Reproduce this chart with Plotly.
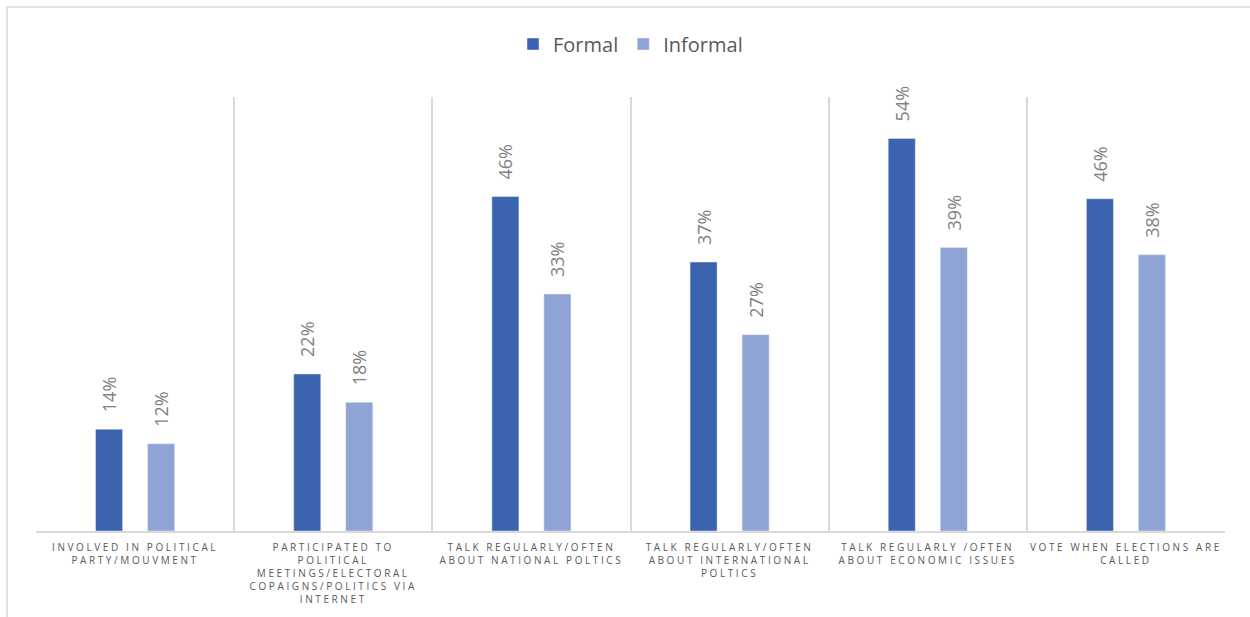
import plotly.graph_objects as go

categories = [
    "Involved in political party/mouvment",
    "Participated to political meetings/electoral copaigns/politics via internet",
    "Talk regularly/often about national poltics",
    "Talk regularly/often about international poltics",
    "Talk regularly /often about economic issues",
    "Vote when elections are called",
]
tick_labels = [
    "INVOLVED IN POLITICAL<br>PARTY/MOUVMENT",
    "PARTICIPATED TO<br>POLITICAL<br>MEETINGS/ELECTORAL<br>COPAIGNS/POLITICS VIA<br>INTERNET",
    "TALK REGULARLY/OFTEN<br>ABOUT NATIONAL POLTICS",
    "TALK REGULARLY/OFTEN<br>ABOUT INTERNATIONAL<br>POLTICS",
    "TALK REGULARLY /OFTEN<br>ABOUT ECONOMIC ISSUES",
    "VOTE WHEN ELECTIONS ARE<br>CALLED",
]
formal = [0.14, 0.216, 0.46, 0.37, 0.54, 0.457]
informal = [0.12, 0.177, 0.326, 0.27, 0.39, 0.38]

FONT = "Open Sans"
GRAY = "#595959"
PAD = "\u00a0\u00a0\u00a0"

fig = go.Figure()
for name, vals, col in [("Formal", formal, "#3C63AD"), ("Informal", informal, "#8FA4D5")]:
    fig.add_bar(name=name, x=categories, y=vals, marker_color=col,
                texttemplate=PAD + "%{y:.0%}", textposition="outside", textangle=-90,
                constraintext="none",
                textfont=dict(family=FONT, size=18, color="#7F7F7F"), cliponaxis=False)

fig.update_layout(
    width=1250, height=617,
    margin=dict(l=36, r=25, t=97, b=86),
    paper_bgcolor="white", plot_bgcolor="white",
    barmode="group", bargap=0.475, bargroupgap=0.48,
    font=dict(family=FONT, color=GRAY),
    legend=dict(orientation="h", x=0.5, xanchor="center", y=1 + 53/434, yanchor="middle",
                bgcolor="rgba(0,0,0,0)",
                font=dict(family=FONT, size=20, color=GRAY)),
    showlegend=True,
)
span = '<span style="letter-spacing:2.6px">'
fig.update_xaxes(
    tickmode="array", tickvals=categories,
    ticktext=[span + t.replace("<br>", "</span><br>" + span) + "</span>" for t in tick_labels],
    tickson="boundaries", ticks="", showgrid=True, gridcolor="#D9D9D9", gridwidth=1.5,
    showline=True, linecolor="#D9D9D9", linewidth=1.5,
    tickfont=dict(family=FONT, size=10, color=GRAY), tickangle=0,
    ticklabelstandoff=6,
    range=[-0.5, 5.5],
)
fig.update_yaxes(range=[0, 0.597], visible=False, showgrid=False, zeroline=False)

fig.add_shape(type="rect", xref="paper", yref="paper",
              x0=-29/1189, x1=1.1, y0=-0.4, y1=(531-7)/434,
              line=dict(color="#D9D9D9", width=1.5), fillcolor="rgba(0,0,0,0)", layer="below")

fig.write_html("out.html")
